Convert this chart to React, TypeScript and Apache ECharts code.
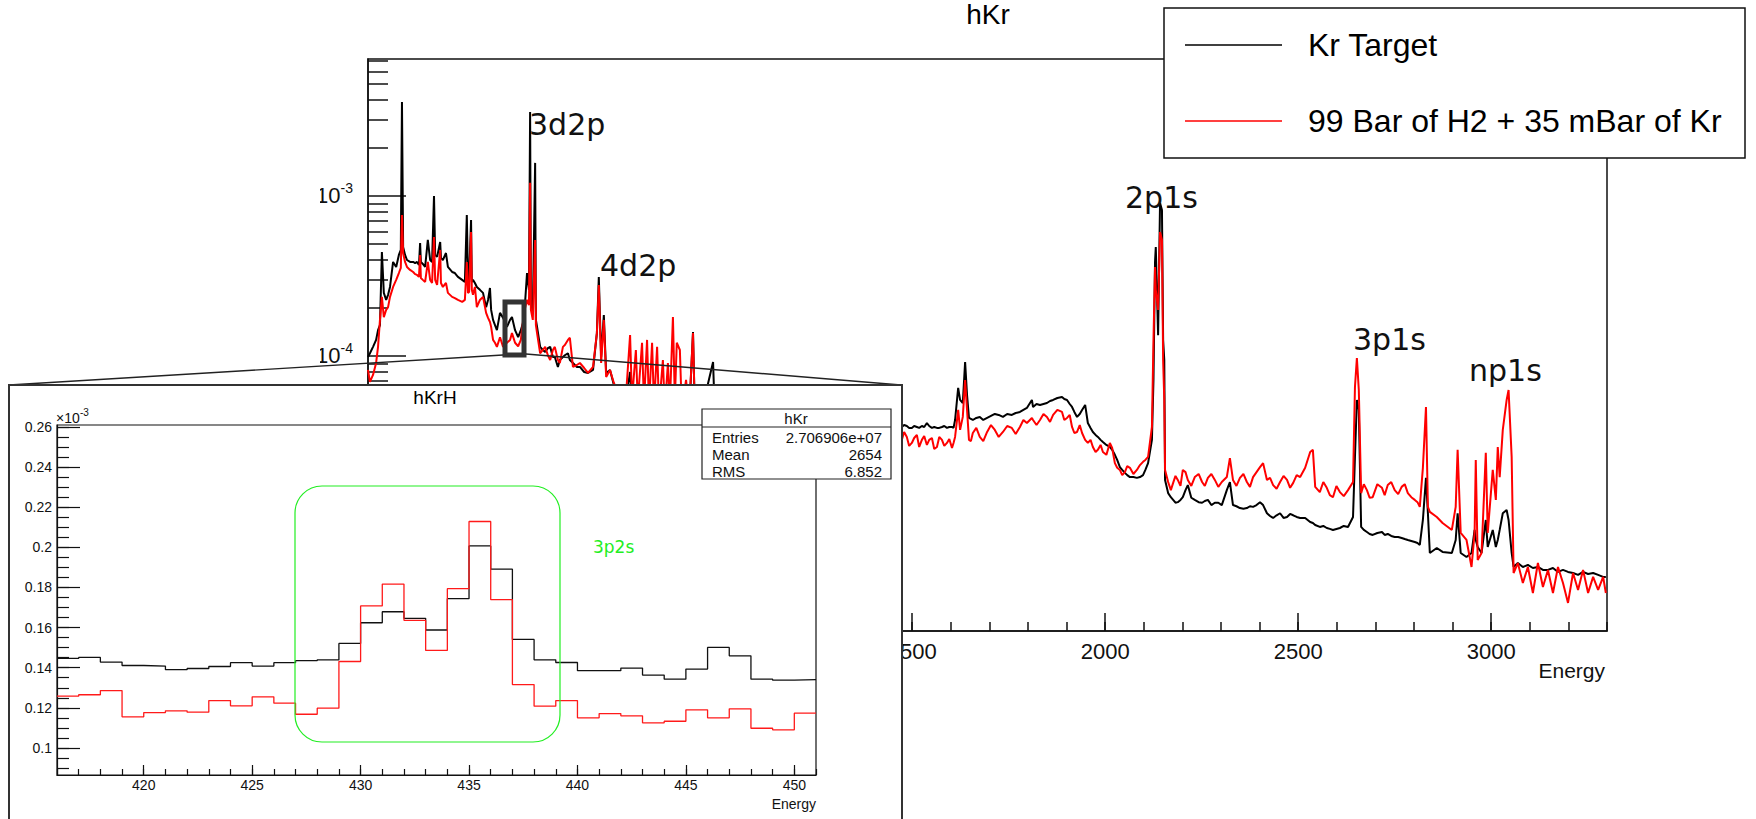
import React, { useEffect, useRef } from "react";
import * as echarts from "echarts";

// ---------------- Main spectrum "hKr" (log y) ----------------
// region: low energies (visible above the inset)
const eLow = [90, 95, 103, 111, 116, 121, 126, 131, 137, 142, 147, 155, 163, 170, 175, 178, 181, 186, 191, 199, 207, 212, 217, 222, 225, 227, 232, 238, 245, 251, 256, 261, 264, 269, 277, 279, 284, 292, 297, 308, 315, 323, 334, 341, 346, 349, 352, 357, 359, 362, 367, 372, 380, 388, 396, 401, 406, 409, 414, 419, 424, 432, 440, 445, 450, 458, 463, 471, 479, 486, 494, 502, 507, 510, 512, 517, 523, 525, 528, 536, 543, 549, 556, 562, 569, 574, 582, 587];
const krLow = [9.86e-5, 1.04e-4, 1.14e-4, 1.26e-4, 1.45e-4, 1.56e-4, 4.47e-4, 2.48e-4, 2.24e-4, 2.41e-4, 2.7e-4, 3.87e-4, 3.6e-4, 4.28e-4, 4.6e-4, 3.87e-3, 4.8e-4, 4.28e-4, 3.98e-4, 3.87e-4, 3.87e-4, 3.81e-4, 3.87e-4, 3.7e-4, 5.08e-4, 3.87e-4, 3.76e-4, 3.6e-4, 5.31e-4, 3.98e-4, 3.87e-4, 1.0e-3, 4.28e-4, 4.16e-4, 5.16e-4, 4.1e-4, 3.98e-4, 4.4e-4, 3.6e-4, 3.35e-4, 3.3e-4, 3.12e-4, 2.99e-4, 2.9e-4, 7.61e-4, 3.12e-4, 2.99e-4, 7.08e-4, 2.9e-4, 2.99e-4, 2.86e-4, 2.7e-4, 2.59e-4, 2.48e-4, 2.02e-4, 2.24e-4, 2.66e-4, 1.94e-4, 1.68e-4, 1.56e-4, 1.45e-4, 1.86e-4, 1.73e-4, 1.63e-4, 1.52e-4, 1.68e-4, 1.75e-4, 1.45e-4, 1.31e-4, 1.45e-4, 1.68e-4, 3.3e-4, 2.59e-4, 3.35e-3, 2.24e-4, 1.86e-4, 1.61e-3, 1.68e-4, 1.52e-4, 1.14e-4, 1.09e-4, 1.06e-4, 1.12e-4, 1.14e-4, 9.86e-5, 9.86e-5, 8.54e-5, 9.44e-5];
const h2Low = [8.18e-5, 6.88e-5, 7.61e-5, 9.04e-5, 1.14e-4, 1.68e-4, 2.34e-4, 1.75e-4, 1.94e-4, 2.02e-4, 2.34e-4, 2.7e-4, 2.99e-4, 3.3e-4, 3.55e-4, 7.61e-4, 4.4e-4, 3.87e-4, 3.6e-4, 3.45e-4, 3.35e-4, 3.25e-4, 3.21e-4, 3.12e-4, 4.28e-4, 3.07e-4, 2.99e-4, 2.9e-4, 3.87e-4, 2.99e-4, 2.86e-4, 5.54e-4, 2.99e-4, 2.78e-4, 4.6e-4, 2.86e-4, 2.7e-4, 2.86e-4, 2.48e-4, 2.34e-4, 2.3e-4, 2.24e-4, 2.18e-4, 2.24e-4, 3.87e-4, 2.48e-4, 2.51e-4, 5.96e-4, 2.59e-4, 2.41e-4, 2.7e-4, 2.02e-4, 2.24e-4, 2.34e-4, 1.86e-4, 1.73e-4, 1.63e-4, 1.52e-4, 1.26e-4, 1.21e-4, 1.14e-4, 1.31e-4, 1.14e-4, 1.17e-4, 1.21e-4, 1.26e-4, 1.39e-4, 1.21e-4, 1.15e-4, 1.26e-4, 1.86e-4, 2.24e-4, 2.08e-4, 1.21e-3, 1.94e-4, 1.68e-4, 5.31e-4, 1.56e-4, 1.39e-4, 1.04e-4, 1.09e-4, 1.14e-4, 1.01e-4, 9.44e-5, 1.09e-4, 1.14e-4, 9.44e-5, 9.04e-5];

// region: 4d2p and the spiky part
const eMid = [595, 600, 608, 613, 621, 631, 639, 650, 660, 673, 683, 688, 694, 701, 707, 717, 727, 738, 748, 758, 769, 774, 784, 789, 800, 805, 813, 818, 826, 831, 839, 844, 854, 859, 867, 872, 880, 885, 890, 898, 903, 914, 922, 932, 937, 950];
const krMid = [9.86e-5, 1.01e-4, 1.04e-4, 9.44e-5, 9.04e-5, 8.54e-5, 8.54e-5, 7.94e-5, 7.83e-5, 8.18e-5, 1.39e-4, 3.12e-4, 9.86e-5, 1.8e-4, 7.83e-5, 8.18e-5, 6.59e-5, 5.7e-5, 5.31e-5, 5.31e-5, 7.94e-5, 5.31e-5, 5.46e-5, 5.08e-5, 5.16e-5, 4.94e-5, 6.13e-5, 4.94e-5, 5.7e-5, 4.73e-5, 4.94e-5, 4.6e-5, 4.73e-5, 4.6e-5, 5.31e-5, 4.6e-5, 5.7e-5, 4.6e-5, 5.31e-5, 4.47e-5, 4.28e-5, 4.47e-5, 4.28e-5, 1.41e-4, 4.28e-5, 4.1e-5];
const h2Mid = [1.14e-4, 1.17e-4, 1.26e-4, 1.3e-4, 8.54e-5, 8.78e-5, 9.04e-5, 8.41e-5, 7.83e-5, 8.54e-5, 1.39e-4, 2.78e-4, 9.04e-5, 1.68e-4, 7.39e-5, 8.18e-5, 6.78e-5, 5.96e-5, 5.7e-5, 5.46e-5, 1.35e-4, 5.31e-5, 1.09e-4, 5.16e-5, 1.21e-4, 5.08e-5, 1.26e-4, 4.94e-5, 1.21e-4, 4.87e-5, 1.14e-4, 4.73e-5, 9.44e-5, 4.6e-5, 9.04e-5, 4.94e-5, 1.75e-4, 5.31e-5, 1.21e-4, 1.09e-4, 4.6e-5, 7.08e-5, 4.47e-5, 1.39e-4, 4.28e-5, 3.98e-5];

// region: behind the inset
const eHidden = [984, 989, 1054, 1131, 1209, 1287, 1364, 1429];
const krHidden = [9.17e-5, 3.98e-5, 3.87e-5, 3.7e-5, 3.7e-5, 3.6e-5, 3.6e-5, 3.65e-5];
const h2Hidden = [5.31e-5, 3.98e-5, 3.45e-5, 3.35e-5, 3.21e-5, 3.07e-5, 2.99e-5, 2.99e-5];

// region: 1500 - 2200 (2p1s)
const eHigh1 = [1473, 1486, 1499, 1512, 1525, 1538, 1551, 1564, 1577, 1590, 1603, 1611, 1619, 1624, 1631, 1637, 1642, 1647, 1657, 1675, 1694, 1714, 1735, 1758, 1779, 1797, 1810, 1813, 1831, 1849, 1865, 1888, 1901, 1914, 1927, 1940, 1948, 1955, 1968, 1981, 1994, 2012, 2025, 2038, 2051, 2064, 2082, 2098, 2111, 2121, 2125, 2129, 2131, 2137, 2142, 2147, 2150, 2153, 2155];
const krHigh1 = [3.6e-5, 3.65e-5, 3.55e-5, 3.6e-5, 3.65e-5, 3.81e-5, 3.55e-5, 3.55e-5, 3.6e-5, 3.55e-5, 3.6e-5, 3.98e-5, 6.31e-5, 5.31e-5, 5.08e-5, 9.17e-5, 5.7e-5, 4.1e-5, 3.98e-5, 4.16e-5, 4.1e-5, 4.34e-5, 4.16e-5, 4.28e-5, 4.47e-5, 4.73e-5, 5.31e-5, 4.8e-5, 4.94e-5, 5.08e-5, 5.31e-5, 5.54e-5, 5.31e-5, 4.8e-5, 4.16e-5, 4.6e-5, 4.94e-5, 3.81e-5, 3.35e-5, 3.12e-5, 2.9e-5, 2.7e-5, 2.41e-5, 2.02e-5, 1.86e-5, 1.75e-5, 1.73e-5, 1.8e-5, 2.14e-5, 2.99e-5, 7.08e-5, 3.87e-4, 4.8e-4, 1.35e-4, 9.04e-4, 8.18e-4, 1.26e-4, 9.44e-5, 1.68e-5];
const h2High1 = [2.99e-5, 3.12e-5, 2.86e-5, 3.21e-5, 2.99e-5, 2.78e-5, 3.07e-5, 2.7e-5, 2.99e-5, 2.86e-5, 2.66e-5, 3.12e-5, 4.6e-5, 3.45e-5, 4.16e-5, 7.08e-5, 4.6e-5, 2.99e-5, 3.3e-5, 3.12e-5, 3.35e-5, 3.45e-5, 3.35e-5, 3.55e-5, 3.6e-5, 3.81e-5, 4.1e-5, 3.98e-5, 3.98e-5, 4.16e-5, 4.28e-5, 4.47e-5, 4.1e-5, 3.6e-5, 3.35e-5, 3.3e-5, 2.99e-5, 2.86e-5, 2.7e-5, 2.59e-5, 2.51e-5, 2.86e-5, 2.14e-5, 1.94e-5, 1.88e-5, 2.0e-5, 1.94e-5, 2.18e-5, 2.34e-5, 3.6e-5, 1.26e-4, 3.6e-4, 2.59e-4, 1.94e-4, 5.96e-4, 5.31e-4, 9.44e-5, 5.31e-5, 1.94e-5];
// extra readings in between (bin-to-bin fluctuations)
const eHigh1b = [1479, 1492, 1505, 1518, 1531, 1544, 1557, 1570, 1583, 1596, 1607, 1652, 1666, 1684, 1704, 1724, 1746, 1768, 1788, 1822, 1840, 1857, 1876, 1894, 1908, 1920, 1934, 1962, 1975, 1988, 2003, 2018, 2031, 2044, 2057, 2073, 2090, 2104];
const krHigh1b = [3.7e-5, 3.55e-5, 3.65e-5, 3.55e-5, 3.6e-5, 3.65e-5, 3.6e-5, 3.55e-5, 3.65e-5, 3.6e-5, 3.55e-5, 4.04e-5, 4.1e-5, 3.98e-5, 4.22e-5, 4.28e-5, 4.34e-5, 4.4e-5, 4.6e-5, 5.01e-5, 5.01e-5, 5.23e-5, 5.46e-5, 5.38e-5, 5.01e-5, 4.47e-5, 4.34e-5, 3.55e-5, 3.21e-5, 2.99e-5, 2.78e-5, 2.59e-5, 2.24e-5, 1.94e-5, 1.8e-5, 1.75e-5, 1.75e-5, 1.94e-5];
const h2High1b = [3.35e-5, 2.74e-5, 3.07e-5, 2.7e-5, 3.16e-5, 2.99e-5, 2.62e-5, 3.12e-5, 2.74e-5, 3.03e-5, 2.86e-5, 2.94e-5, 3.55e-5, 2.94e-5, 3.7e-5, 3.12e-5, 3.65e-5, 3.25e-5, 3.98e-5, 3.7e-5, 4.34e-5, 3.87e-5, 4.6e-5, 3.98e-5, 4.28e-5, 3.3e-5, 3.7e-5, 2.99e-5, 2.51e-5, 2.78e-5, 2.41e-5, 2.66e-5, 2.0e-5, 1.8e-5, 2.05e-5, 1.83e-5, 2.08e-5, 2.24e-5];

// region: 2160 - 2850 (3p1s)
const eHigh2 = [2163, 2176, 2188, 2201, 2214, 2232, 2251, 2266, 2284, 2302, 2315, 2323, 2331, 2349, 2367, 2383, 2401, 2409, 2419, 2435, 2453, 2471, 2487, 2505, 2518, 2531, 2538, 2544, 2556, 2574, 2590, 2608, 2629, 2642, 2647, 2652, 2657, 2663, 2678, 2693, 2717, 2732, 2750, 2768, 2784, 2802, 2815, 2823, 2831, 2836];
const krHigh2 = [1.39e-5, 1.26e-5, 1.22e-5, 1.31e-5, 1.56e-5, 1.26e-5, 1.21e-5, 1.26e-5, 1.21e-5, 1.17e-5, 1.45e-5, 1.63e-5, 1.17e-5, 1.12e-5, 1.12e-5, 1.14e-5, 1.22e-5, 1.17e-5, 1.04e-5, 9.72e-6, 1.04e-5, 9.86e-6, 1.01e-5, 9.72e-6, 9.72e-6, 9.17e-6, 9.04e-6, 8.78e-6, 8.54e-6, 8.41e-6, 8.18e-6, 8.41e-6, 8.54e-6, 9.86e-6, 2.34e-5, 5.31e-5, 4.6e-5, 8.54e-6, 7.94e-6, 7.61e-6, 7.94e-6, 7.72e-6, 7.39e-6, 7.29e-6, 7.08e-6, 6.88e-6, 6.59e-6, 9.44e-6, 1.73e-5, 1.04e-5];
const h2High2 = [1.63e-5, 1.61e-5, 1.68e-5, 1.94e-5, 1.68e-5, 1.75e-5, 1.63e-5, 1.73e-5, 1.68e-5, 1.63e-5, 1.75e-5, 2.3e-5, 1.68e-5, 1.73e-5, 1.63e-5, 1.75e-5, 2.02e-5, 2.14e-5, 1.68e-5, 1.56e-5, 1.63e-5, 1.68e-5, 1.61e-5, 1.75e-5, 2.0e-5, 2.51e-5, 2.59e-5, 1.52e-5, 1.41e-5, 1.5e-5, 1.31e-5, 1.41e-5, 1.45e-5, 1.63e-5, 6.4e-5, 9.72e-5, 6.13e-5, 1.39e-5, 1.45e-5, 1.31e-5, 1.5e-5, 1.56e-5, 1.45e-5, 1.52e-5, 1.39e-5, 1.26e-5, 1.14e-5, 2.0e-5, 4.8e-5, 1.14e-5];
const eHigh2b = [2170, 2182, 2195, 2208, 2223, 2242, 2258, 2275, 2293, 2340, 2358, 2375, 2392, 2427, 2444, 2462, 2479, 2496, 2565, 2582, 2599, 2618, 2670, 2685, 2705, 2724, 2741, 2759, 2776, 2793, 2809];
const krHigh2b = [1.31e-5, 1.21e-5, 1.26e-5, 1.45e-5, 1.3e-5, 1.22e-5, 1.24e-5, 1.17e-5, 1.21e-5, 1.15e-5, 1.11e-5, 1.15e-5, 1.17e-5, 1.0e-5, 1.01e-5, 9.72e-6, 1.03e-5, 9.86e-6, 8.66e-6, 8.3e-6, 8.3e-6, 8.66e-6, 8.18e-6, 7.72e-6, 7.83e-6, 7.61e-6, 7.5e-6, 7.39e-6, 7.18e-6, 6.98e-6, 6.78e-6];
const h2High2b = [1.45e-5, 1.78e-5, 1.54e-5, 1.88e-5, 1.54e-5, 1.83e-5, 1.54e-5, 1.83e-5, 1.52e-5, 1.54e-5, 1.83e-5, 1.52e-5, 1.88e-5, 1.73e-5, 1.48e-5, 1.78e-5, 1.5e-5, 1.8e-5, 1.63e-5, 1.35e-5, 1.54e-5, 1.33e-5, 1.58e-5, 1.3e-5, 1.58e-5, 1.35e-5, 1.63e-5, 1.37e-5, 1.58e-5, 1.31e-5, 1.22e-5];

// region: 2840 - 3300 (np1s)
const eHigh3 = [2841, 2859, 2874, 2898, 2908, 2913, 2921, 2936, 2949, 2957, 2960, 2965, 2975, 2986, 2991, 3004, 3012, 3017, 3022, 3030, 3040, 3045, 3053, 3058, 3069, 3082, 3095, 3108, 3121, 3134, 3147, 3160, 3173, 3186, 3199, 3212, 3225, 3238, 3251, 3264, 3277, 3290, 3297];
const krHigh3 = [5.87e-6, 6.31e-6, 5.96e-6, 5.87e-6, 7.08e-6, 1.04e-5, 5.87e-6, 5.54e-6, 5.87e-6, 8.18e-6, 7.08e-6, 6.4e-6, 5.87e-6, 9.44e-6, 6.4e-6, 8.18e-6, 6.4e-6, 7.08e-6, 8.18e-6, 1.04e-5, 1.09e-5, 9.44e-6, 5.87e-6, 4.8e-6, 5.08e-6, 4.8e-6, 4.94e-6, 4.73e-6, 4.8e-6, 4.6e-6, 4.6e-6, 4.73e-6, 4.47e-6, 4.6e-6, 4.47e-6, 4.4e-6, 4.28e-6, 4.47e-6, 4.34e-6, 4.4e-6, 4.28e-6, 4.16e-6, 4.16e-6];
const h2High3 = [1.06e-5, 9.86e-6, 9.04e-6, 8.18e-6, 1.14e-5, 2.59e-5, 7.83e-6, 7.08e-6, 4.8e-6, 7.83e-6, 2.24e-5, 5.31e-6, 5.87e-6, 2.48e-5, 7.83e-6, 1.94e-5, 1.26e-5, 2.7e-5, 1.75e-5, 3.45e-5, 5.31e-5, 6.13e-5, 2.34e-5, 4.4e-6, 5.08e-6, 3.81e-6, 4.8e-6, 3.3e-6, 5.08e-6, 3.6e-6, 4.6e-6, 3.3e-6, 4.8e-6, 3.81e-6, 2.86e-6, 4.4e-6, 3.45e-6, 4.6e-6, 3.3e-6, 4.16e-6, 3.45e-6, 4.16e-6, 3.3e-6];

const energy = [...eLow, ...eMid, ...eHidden, ...eHigh1, ...eHigh1b, ...eHigh2, ...eHigh2b, ...eHigh3];
const krTarget = [...krLow, ...krMid, ...krHidden, ...krHigh1, ...krHigh1b, ...krHigh2, ...krHigh2b, ...krHigh3];
const h2Kr = [...h2Low, ...h2Mid, ...h2Hidden, ...h2High1, ...h2High1b, ...h2High2, ...h2High2b, ...h2High3];

const mainXTickLabels = [500, 1000, 1500, 2000, 2500, 3000];
const mainXMinorTicks = Array.from({ length: 33 }, (_, i) => (i + 1) * 100);
const mainYMin = 1.91e-6;
const mainYMax = 7.18e-3;
const mainYMinorTicks: number[] = [];
[-6, -5, -4, -3].forEach((p) => {
  for (let k = 2; k <= 9; k++) {
    const v = k * Math.pow(10, p);
    if (v > mainYMin && v < mainYMax) mainYMinorTicks.push(v);
  }
});

// ---------------- Inset "hKrH" (values in units of 1e-3) ----------------
const insetBinEdges = [416, 417, 418, 419, 420, 421, 422, 423, 424, 425, 426, 427, 428, 429, 430, 431, 432, 433, 434, 435, 436, 437, 438, 439, 440, 441, 442, 443, 444, 445, 446, 447, 448, 449, 450, 451];
const insetKr = [0.1446, 0.1451, 0.1428, 0.1411, 0.1408, 0.139, 0.1396, 0.1406, 0.1425, 0.1408, 0.1425, 0.1435, 0.1439, 0.1521, 0.1624, 0.1679, 0.1646, 0.1588, 0.1744, 0.2007, 0.1891, 0.1541, 0.1439, 0.1426, 0.1385, 0.1385, 0.1398, 0.1363, 0.1343, 0.1393, 0.1501, 0.1459, 0.1343, 0.1338, 0.1341];
const insetH2 = [0.1258, 0.1265, 0.1286, 0.1155, 0.1176, 0.1185, 0.1178, 0.1236, 0.121, 0.1255, 0.1223, 0.1168, 0.1198, 0.1431, 0.1708, 0.1817, 0.1636, 0.1486, 0.1794, 0.2129, 0.1739, 0.1316, 0.1208, 0.1236, 0.115, 0.1171, 0.116, 0.1125, 0.1133, 0.119, 0.115, 0.1195, 0.1098, 0.109, 0.1173];
const insetXTickLabels = [420, 425, 430, 435, 440, 445, 450];
const insetXMinorTicks = insetBinEdges.slice();
const insetYTickLabels = [0.1, 0.12, 0.14, 0.16, 0.18, 0.2, 0.22, 0.24, 0.26];
const insetYMinorTicks = Array.from({ length: 35 }, (_, i) => Math.round((0.09 + i * 0.005) * 1000) / 1000);

const HELV = '"Liberation Sans", Arial, Helvetica, sans-serif';
const DEJAVU = '"DejaVu Sans", sans-serif';

function txt(x: number, y: number, text: string, size: number, family: string, opts: any = {}) {
  const align = opts.align || "left";
  const va = opts.va || "middle";
  return {
    type: "text",
    x,
    y,
    z: opts.z ?? 120,
    silent: true,
    style: {
      text,
      font: `${size}px ${family}`,
      fill: opts.fill || "#111",
      align,
      verticalAlign: va,
      textAlign: align,
      textVerticalAlign: va,
    },
  };
}

export default function App() {
  const mainRef = useRef<HTMLDivElement>(null);
  const insetRef = useRef<HTMLDivElement>(null);

  useEffect(() => {
    if (!mainRef.current || !insetRef.current) return;
    const main = echarts.init(mainRef.current, null, { renderer: "svg" });
    const inset = echarts.init(insetRef.current, null, { renderer: "svg" });
    const axisLine = { color: "#111", width: 1.5 };

    const order = energy.map((_, i) => i).sort((a, b) => energy[a] - energy[b]);
    const krData = order.map((i) => [energy[i], krTarget[i]]);
    const h2Data = order.map((i) => [energy[i], h2Kr[i]]);

    main.setOption({
      animation: false,
      backgroundColor: "#ffffff",
      grid: [
        { left: 368, top: 59, width: 1239, height: 572, show: true, borderColor: "#111", borderWidth: 1.5 },
        { left: 368, top: 59, width: 1239, height: 572, show: false },
      ],
      xAxis: [
        {
          gridIndex: 0, type: "value", min: 90, max: 3300,
          axisLine: { show: true, onZero: false, lineStyle: axisLine },
          axisTick: { show: true, inside: true, length: 18, customValues: mainXTickLabels, lineStyle: axisLine },
          axisLabel: {
            show: true, customValues: mainXTickLabels, fontSize: 22, fontFamily: HELV, color: "#111", margin: 9,
            formatter: (v: number) => String(v),
          },
          splitLine: { show: false },
        },
        {
          gridIndex: 1, type: "value", min: 90, max: 3300,
          axisLine: { show: false },
          axisTick: { show: true, inside: true, length: 9, customValues: mainXMinorTicks, lineStyle: axisLine },
          axisLabel: { show: false },
          splitLine: { show: false },
        },
      ],
      yAxis: [
        {
          gridIndex: 0, type: "log", logBase: 10, min: mainYMin, max: mainYMax,
          axisLine: { show: true, onZero: false, lineStyle: axisLine },
          axisTick: { show: true, inside: true, length: 38, lineStyle: axisLine },
          axisLabel: {
            showMinLabel: false, showMaxLabel: false, margin: 15,
            formatter: (v: number) => `{b|10}{s|${Math.round(Math.log10(v))}}`,
            rich: {
              b: { fontSize: 22, fontFamily: HELV, color: "#111", lineHeight: 30, verticalAlign: "middle" },
              s: { fontSize: 14, fontFamily: HELV, color: "#111", lineHeight: 14, verticalAlign: "top" },
            },
          },
          splitLine: { show: false },
        },
        {
          gridIndex: 1, type: "value", min: Math.log10(mainYMin), max: Math.log10(mainYMax),
          axisLine: { show: false },
          axisTick: { show: true, inside: true, length: 20, customValues: mainYMinorTicks.map((v) => Math.log10(v)), lineStyle: axisLine },
          axisLabel: { show: false },
          splitLine: { show: false },
        },
      ],
      series: [
        {
          name: "Kr Target", type: "line", xAxisIndex: 0, yAxisIndex: 0, data: krData,
          showSymbol: false, symbol: "none", lineStyle: { color: "#000000", width: 2 }, z: 2,
        },
        {
          name: "99 Bar of H2 + 35 mBar of Kr", type: "line", xAxisIndex: 0, yAxisIndex: 0, data: h2Data,
          showSymbol: false, symbol: "none", lineStyle: { color: "#ff0000", width: 2 }, z: 3,
        },
      ],
      graphic: [
        { type: "rect", silent: true, z: 90, shape: { x: 0, y: 140, width: 320, height: 238 }, style: { fill: "#ffffff" } },
        txt(988, 14, "hKr", 28, HELV, { align: "center", fill: "#000" }),
        txt(529, 124, "3d2p", 30, DEJAVU),
        txt(600, 265, "4d2p", 30, DEJAVU),
        txt(1125, 197, "2p1s", 30, DEJAVU),
        txt(1353, 339, "3p1s", 30, DEJAVU),
        txt(1469, 370, "np1s", 30, DEJAVU),
        txt(1605, 670, "Energy", 21, HELV, { align: "right" }),
        { type: "rect", silent: true, z: 95, shape: { x: 505, y: 302, width: 19, height: 53 }, style: { fill: "none", stroke: "#333", lineWidth: 5 } },
        { type: "line", silent: true, z: 96, shape: { x1: 503, y1: 355, x2: 9, y2: 385 }, style: { stroke: "#222", lineWidth: 1.4 } },
        { type: "line", silent: true, z: 96, shape: { x1: 526, y1: 354, x2: 901, y2: 385 }, style: { stroke: "#222", lineWidth: 1.4 } },
        { type: "rect", silent: true, z: 100, shape: { x: 1164, y: 8, width: 581, height: 150 }, style: { fill: "#ffffff", stroke: "#111", lineWidth: 1.5 } },
        { type: "line", silent: true, z: 101, shape: { x1: 1185, y1: 45, x2: 1282, y2: 45 }, style: { stroke: "#000", lineWidth: 1.5 } },
        { type: "line", silent: true, z: 101, shape: { x1: 1185, y1: 121, x2: 1282, y2: 121 }, style: { stroke: "#ff0000", lineWidth: 1.5 } },
        txt(1308, 45, "Kr Target", 32, HELV, { fill: "#000", z: 102 }),
        txt(1308, 121, "99 Bar of H2 + 35 mBar of Kr", 32, HELV, { fill: "#000", z: 102 }),
      ],
    });

    const insetAxis = { color: "#111", width: 1.2 };
    const stepData = (vals: number[]) => insetBinEdges.map((e, i) => [e, vals[Math.min(i, vals.length - 1)]]);

    inset.setOption({
      animation: false,
      backgroundColor: "#ffffff",
      grid: [
        { left: 47, top: 39, width: 759, height: 350, show: true, borderColor: "#111", borderWidth: 1.2 },
        { left: 47, top: 39, width: 759, height: 350, show: false },
      ],
      xAxis: [
        {
          gridIndex: 0, type: "value", min: 416, max: 451,
          axisLine: { show: true, onZero: false, lineStyle: insetAxis },
          axisTick: { show: true, inside: true, length: 10, customValues: insetXTickLabels, lineStyle: insetAxis },
          axisLabel: { show: true, customValues: insetXTickLabels, fontSize: 14, fontFamily: HELV, color: "#111", margin: 3 },
          splitLine: { show: false },
        },
        {
          gridIndex: 1, type: "value", min: 416, max: 451,
          axisLine: { show: false },
          axisTick: { show: true, inside: true, length: 6, customValues: insetXMinorTicks, lineStyle: insetAxis },
          axisLabel: { show: false },
          splitLine: { show: false },
        },
      ],
      yAxis: [
        {
          gridIndex: 0, type: "value", min: 0.0865, max: 0.261,
          axisLine: { show: true, onZero: false, lineStyle: insetAxis },
          axisTick: { show: true, inside: true, length: 23, customValues: insetYTickLabels, lineStyle: insetAxis },
          axisLabel: {
            show: true, customValues: insetYTickLabels, fontSize: 14, fontFamily: HELV, color: "#111", margin: 5,
            formatter: (v: number) => String(Number(v.toFixed(3))),
          },
          splitLine: { show: false },
        },
        {
          gridIndex: 1, type: "value", min: 0.0865, max: 0.261,
          axisLine: { show: false },
          axisTick: { show: true, inside: true, length: 12, customValues: insetYMinorTicks, lineStyle: insetAxis },
          axisLabel: { show: false },
          splitLine: { show: false },
        },
      ],
      series: [
        {
          name: "Kr Target", type: "line", step: "end", xAxisIndex: 0, yAxisIndex: 0, data: stepData(insetKr),
          showSymbol: false, symbol: "none", lineStyle: { color: "#111111", width: 1.3 }, z: 2,
        },
        {
          name: "99 Bar of H2 + 35 mBar of Kr", type: "line", step: "end", xAxisIndex: 0, yAxisIndex: 0, data: stepData(insetH2),
          showSymbol: false, symbol: "none", lineStyle: { color: "#ff1a1a", width: 1.3 }, z: 3,
        },
      ],
      graphic: [
        txt(425, 11, "hKrH", 19, HELV, { align: "center", fill: "#000" }),
        txt(46, 32, "×10", 14, HELV),
        txt(70, 26, "-3", 10, HELV),
        txt(806, 418, "Energy", 14, HELV, { align: "right" }),
        { type: "rect", silent: true, z: 110, shape: { x: 285, y: 100, width: 265, height: 256, r: 27 }, style: { fill: "none", stroke: "#22ee22", lineWidth: 1.2 } },
        txt(583, 161, "3p2s", 17, DEJAVU, { fill: "#22ee22" }),
        { type: "rect", silent: true, z: 115, shape: { x: 692, y: 23, width: 189, height: 70 }, style: { fill: "#ffffff", stroke: "#222", lineWidth: 1.2 } },
        { type: "line", silent: true, z: 116, shape: { x1: 692, y1: 41, x2: 881, y2: 41 }, style: { stroke: "#222", lineWidth: 1.2 } },
        txt(786, 32, "hKr", 15, HELV, { align: "center", z: 117 }),
        txt(702, 51, "Entries", 15, HELV, { z: 117 }),
        txt(872, 51, "2.706906e+07", 15, HELV, { align: "right", z: 117 }),
        txt(702, 68, "Mean", 15, HELV, { z: 117 }),
        txt(872, 68, "2654", 15, HELV, { align: "right", z: 117 }),
        txt(702, 85, "RMS", 15, HELV, { z: 117 }),
        txt(872, 85, "6.852", 15, HELV, { align: "right", z: 117 }),
      ],
    });

    return () => {
      main.dispose();
      inset.dispose();
    };
  }, []);

  return (
    <div style={{ position: "fixed", left: 0, top: 0, width: 1756, height: 819, overflow: "hidden", background: "#fff" }}>
      <div ref={mainRef} style={{ position: "absolute", left: 0, top: 0, width: 1756, height: 819 }} />
      <div
        style={{
          position: "absolute", left: 8, top: 384, width: 895, height: 440, boxSizing: "border-box",
          border: "2px solid #333", borderBottom: "none", background: "#fff",
        }}
      >
        <div ref={insetRef} style={{ width: 891, height: 438 }} />
      </div>
    </div>
  );
}
